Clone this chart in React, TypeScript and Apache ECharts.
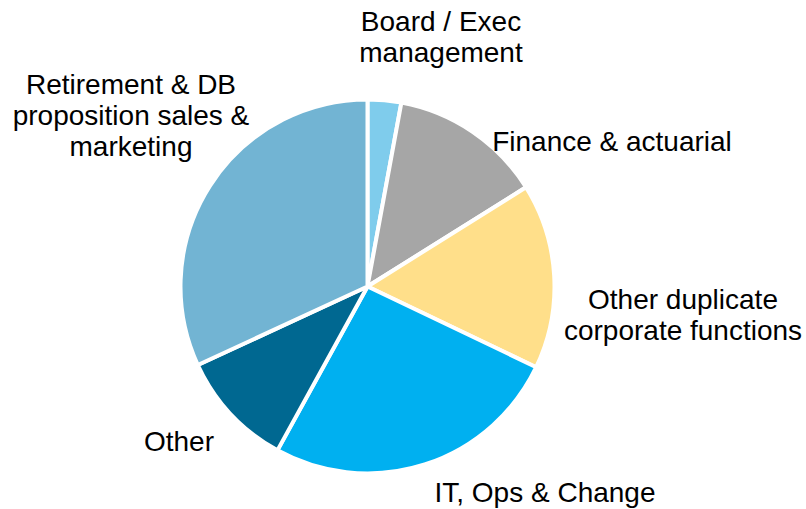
import React, { useEffect, useRef } from "react";
import * as echarts from "echarts";

const categories = [
  "Board / Exec\nmanagement",
  "Finance & actuarial",
  "Other duplicate\ncorporate functions",
  "IT, Ops & Change",
  "Other",
  "Retirement & DB\nproposition sales &\nmarketing",
];
const values = [2.9, 13.2, 16.0, 25.9, 10.1, 31.9];
const colors = ["#7FCCEC", "#A6A6A6", "#FFDF8A", "#00B0F0", "#006891", "#72B4D3"];
// label anchor points (centre of each text block)
const labelPos: [number, number][] = [
  [441, 37],
  [612, 141],
  [683, 315],
  [545, 492],
  [179, 441],
  [131, 115],
];

export default function App() {
  const ref = useRef<HTMLDivElement>(null);
  useEffect(() => {
    if (!ref.current) return;
    const chart = echarts.init(ref.current, null, { renderer: "svg" });
    chart.setOption({
      animation: false,
      backgroundColor: "#ffffff",
      series: [
        {
          type: "pie",
          center: [367.5, 286.5],
          radius: 187,
          startAngle: 90,
          clockwise: true,
          itemStyle: { borderColor: "#ffffff", borderWidth: 4 },
          label: {
            show: true,
            color: "#000000",
            fontFamily: "'Liberation Sans', Arial, sans-serif",
            fontSize: 28,
            lineHeight: 31,
            align: "center",
            overflow: "none",
            width: 400,
          },
          labelLine: { show: false },
          labelLayout: (params: any) => {
            const p = labelPos[params.dataIndex];
            return { x: p[0], y: p[1], align: "center", verticalAlign: "middle" };
          },
          emphasis: { disabled: true },
          data: categories.map((name, i) => ({
            name,
            value: values[i],
            itemStyle: { color: colors[i] },
          })),
        },
      ],
    });
    return () => chart.dispose();
  }, []);
  return (
    <div
      ref={ref}
      style={{ position: "fixed", left: 0, top: 0, width: 806, height: 509 }}
    />
  );
}
